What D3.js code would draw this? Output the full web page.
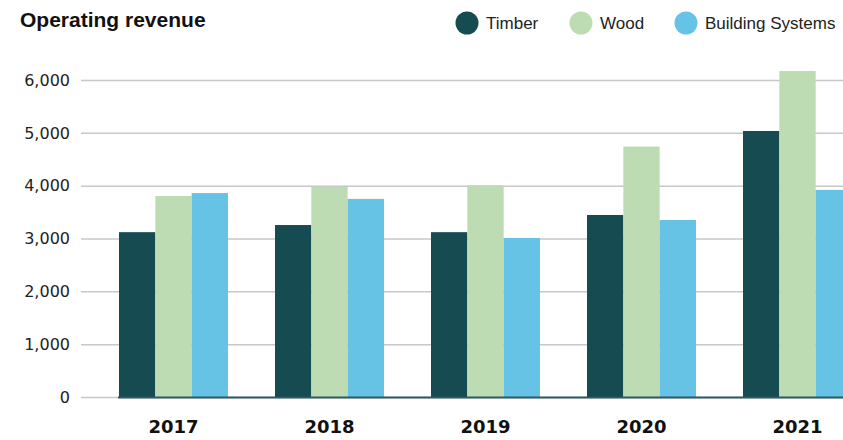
<!DOCTYPE html>
<html>
<head>
<meta charset="utf-8">
<script src="https://cdn.jsdelivr.net/npm/d3@7"></script>
<style>
  body { margin: 0; background: #fff; }
  svg { display: block; }
</style>
</head>
<body>
<div id="chart"></div>
<script>
// data
const years = ["2017", "2018", "2019", "2020", "2021"];
const seriesNames = ["Timber", "Wood", "Building Systems"];
const timber = [3120, 3255, 3120, 3445, 5035];
const wood = [3805, 3980, 4010, 4740, 6170];
const buildingSystems = [3860, 3750, 3010, 3350, 3920];
const yTicks = [0, 1000, 2000, 3000, 4000, 5000, 6000];

const colors = ["#164b52", "#bedcb3", "#67c3e5"];
const seriesValues = [timber, wood, buildingSystems];

const width = 843, height = 440;

const svg = d3.select("#chart").append("svg")
    .attr("width", width)
    .attr("height", height)
    .style("font-family", "'Liberation Sans', Arial, sans-serif");

const y = d3.scaleLinear().domain([0, 6000]).range([397, 80]);

const x0 = d3.scaleBand()
    .domain(years)
    .range([119, 852])
    .paddingInner(47 / 156)
    .paddingOuter(0);

const x1 = d3.scaleBand()
    .domain(seriesNames)
    .range([0, x0.bandwidth()])
    .padding(0);

// gridlines + y labels
const grid = svg.append("g");
grid.selectAll("line")
    .data(yTicks)
    .enter().append("line")
    .attr("x1", 81)
    .attr("x2", width)
    .attr("y1", d => y(d) + 0.5)
    .attr("y2", d => y(d) + 0.5)
    .attr("stroke", "#c8c8c8")
    .attr("stroke-width", 1.5);

grid.selectAll("text")
    .data(yTicks)
    .enter().append("text")
    .attr("x", 70)
    .attr("y", d => y(d))
    .attr("dy", "0.36em")
    .attr("text-anchor", "end")
    .attr("font-size", "16px")
    .attr("font-family", "'DejaVu Sans', sans-serif")
    .attr("fill", "#222")
    .text(d => d3.format(",")(d));

// bars
const groups = svg.append("g")
    .selectAll("g")
    .data(years)
    .enter().append("g")
    .attr("transform", d => `translate(${x0(d)},0)`);

groups.selectAll("rect")
    .data((d, i) => seriesNames.map((s, j) => ({ series: s, value: seriesValues[j][i], color: colors[j] })))
    .enter().append("rect")
    .attr("x", d => x1(d.series))
    .attr("width", x1.bandwidth())
    .attr("y", d => y(d.value))
    .attr("height", d => y(0) - y(d.value))
    .attr("fill", d => d.color);

// baseline
svg.append("line")
    .attr("x1", 118)
    .attr("x2", width)
    .attr("y1", y(0) + 0.5)
    .attr("y2", y(0) + 0.5)
    .attr("stroke", "#2b5a60")
    .attr("stroke-width", 2);

// x labels
svg.append("g")
    .selectAll("text")
    .data(years)
    .enter().append("text")
    .attr("x", d => x0(d) + x0.bandwidth() / 2)
    .attr("y", 433)
    .attr("text-anchor", "middle")
    .attr("font-size", "18px")
    .attr("font-weight", "bold")
    .attr("font-family", "'DejaVu Sans', sans-serif")
    .attr("fill", "#111")
    .text(d => d);

// title
svg.append("text")
    .attr("x", 20)
    .attr("y", 27)
    .attr("font-size", "21px")
    .attr("font-weight", "bold")
    .attr("fill", "#111")
    .text("Operating revenue");

// legend
const legendX = [467, 581, 686];
const legend = svg.append("g")
    .selectAll("g")
    .data(seriesNames)
    .enter().append("g")
    .attr("transform", (d, i) => `translate(${legendX[i]},23)`);

legend.append("circle")
    .attr("r", 11.5)
    .attr("fill", (d, i) => colors[i]);

legend.append("text")
    .attr("x", 19)
    .attr("dy", "0.36em")
    .attr("font-size", "17px")
    .attr("fill", "#222")
    .text(d => d);
</script>
</body>
</html>
